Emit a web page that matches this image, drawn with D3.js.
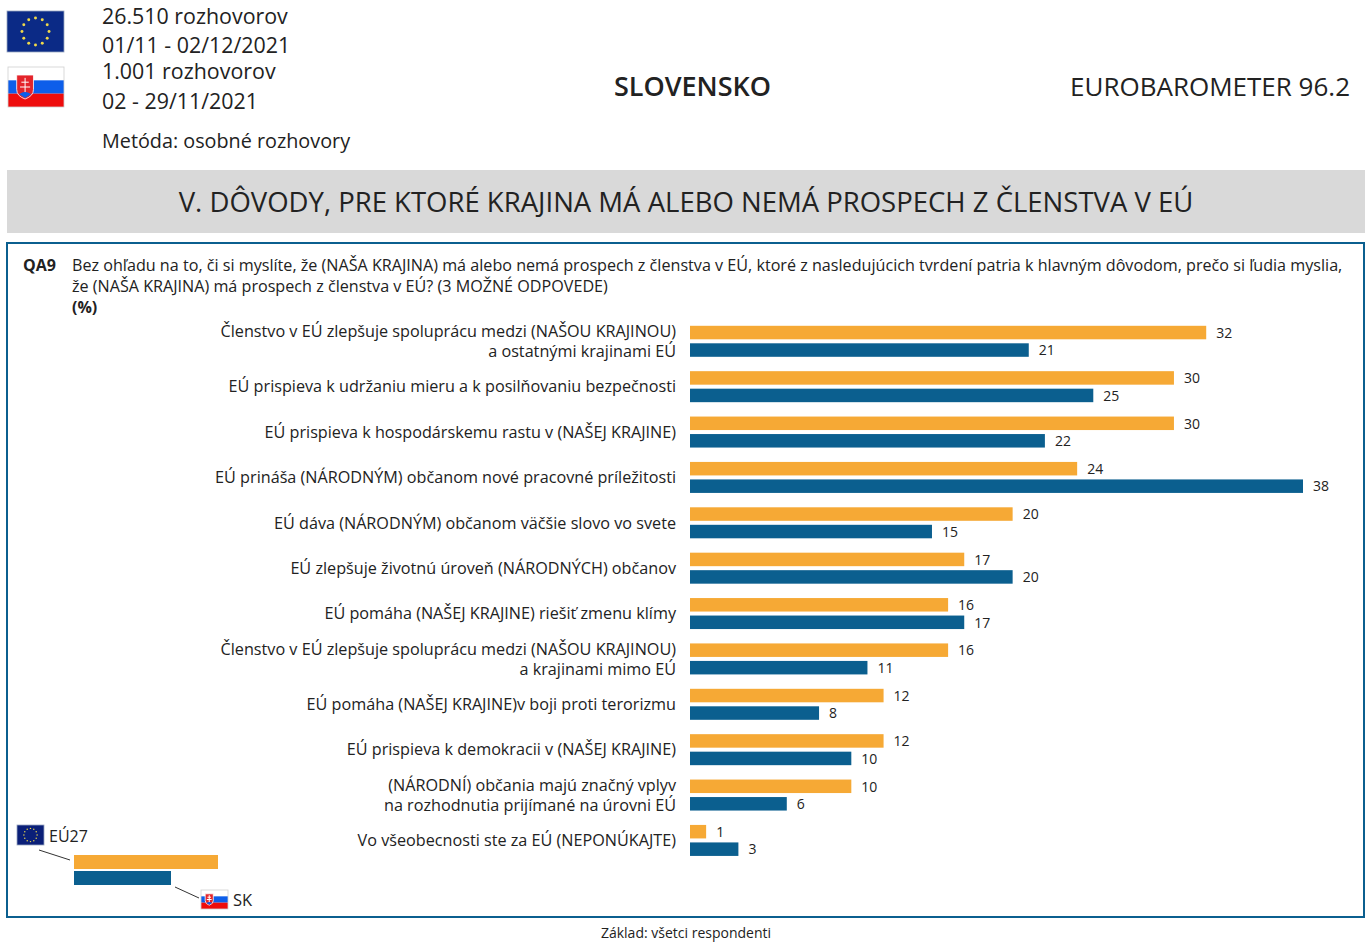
<!DOCTYPE html>
<html><head><meta charset="utf-8">
<script src="https://cdn.jsdelivr.net/npm/d3@7"></script>
<style>
html,body{margin:0;padding:0;background:#fff}
svg{display:block}
text{font-family:"Open Sans","Noto Sans",sans-serif;fill:#222}
</style></head><body><div id="c"></div>
<script>
const categories=[
["Členstvo v EÚ zlepšuje spoluprácu medzi (NAŠOU KRAJINOU)","a ostatnými krajinami EÚ"],
["EÚ prispieva k udržaniu mieru a k posilňovaniu bezpečnosti"],
["EÚ prispieva k hospodárskemu rastu v (NAŠEJ KRAJINE)"],
["EÚ prináša (NÁRODNÝM) občanom nové pracovné príležitosti"],
["EÚ dáva (NÁRODNÝM) občanom väčšie slovo vo svete"],
["EÚ zlepšuje životnú úroveň (NÁRODNÝCH) občanov"],
["EÚ pomáha (NAŠEJ KRAJINE) riešiť zmenu klímy"],
["Členstvo v EÚ zlepšuje spoluprácu medzi (NAŠOU KRAJINOU)","a krajinami mimo EÚ"],
["EÚ pomáha (NAŠEJ KRAJINE)v boji proti terorizmu"],
["EÚ prispieva k demokracii v (NAŠEJ KRAJINE)"],
["(NÁRODNÍ) občania majú značný vplyv","na rozhodnutia prijímané na úrovni EÚ"],
["Vo všeobecnosti ste za EÚ (NEPONÚKAJTE)"]];
const eu27=[32,30,30,24,20,17,16,16,12,12,10,1];
const sk=[21,25,22,38,15,20,17,11,8,10,6,3];
const headerLines=["26.510 rozhovorov","01/11 - 02/12/2021","1.001 rozhovorov","02 - 29/11/2021","Metóda: osobné rozhovory"];
const questionLines=["Bez ohľadu na to, či si myslíte, že (NAŠA KRAJINA) má alebo nemá prospech z členstva v EÚ, ktoré z nasledujúcich tvrdení patria k hlavným dôvodom, prečo si ľudia myslia,","že (NAŠA KRAJINA) má prospech z členstva v EÚ? (3 MOŽNÉ ODPOVEDE)"];

const ORANGE="#f6a935",BLUE="#0b5f8f";
const W=1372,H=945;
const svg=d3.select("#c").append("svg").attr("width",W).attr("height",H);
const x=d3.scaleLinear().domain([0,38]).range([690,1303]);
const y=d3.scaleBand().domain(d3.range(categories.length)).range([321.3,865.8]);
const T=(s,px,py,size,opt={})=>{const t=svg.append("text").attr("x",px).attr("y",py).attr("font-size",size).text(s);
 if(opt.anchor)t.attr("text-anchor",opt.anchor); if(opt.weight)t.attr("font-weight",opt.weight); return t;};

function euFlag(fx,fy,w,h,fill){
 svg.append("rect").attr("x",fx).attr("y",fy).attr("width",w).attr("height",h).attr("fill",fill).attr("stroke","#9aa7c0").attr("stroke-width",.8);
 const r=h*0.33;
 svg.selectAll(null).data(d3.range(12)).enter().append("circle")
  .attr("cx",i=>fx+w/2+r*Math.sin(i*Math.PI/6)).attr("cy",i=>fy+h/2-r*Math.cos(i*Math.PI/6))
  .attr("r",h*0.036).attr("fill","#f0d94a");
}
function skFlag(fx,fy,w,h){
 svg.append("rect").attr("x",fx).attr("y",fy).attr("width",w).attr("height",h/3).attr("fill","#fff");
 svg.append("rect").attr("x",fx).attr("y",fy+h/3).attr("width",w).attr("height",h/3).attr("fill","#0d5eea");
 svg.append("rect").attr("x",fx).attr("y",fy+2*h/3).attr("width",w).attr("height",h/3).attr("fill","#ee0c0c");
 svg.append("rect").attr("x",fx).attr("y",fy).attr("width",w).attr("height",h).attr("fill","none").attr("stroke","#cfcfcf").attr("stroke-width",.8);
 const sx=fx+w*0.155,sy=fy+h*0.2,sw=w*0.3,sh=h*0.6;
 svg.append("path").attr("d",`M${sx},${sy}H${sx+sw}V${sy+sh*.6}Q${sx+sw},${sy+sh*.88} ${sx+sw/2},${sy+sh}Q${sx},${sy+sh*.88} ${sx},${sy+sh*.6}Z`).attr("fill","#e4242a").attr("stroke","#fff").attr("stroke-width",.8);
 const c=sx+sw/2;
 svg.append("path").attr("d",`M${c},${sy+sh*.12}V${sy+sh*.72}M${c-sw*.22},${sy+sh*.3}H${c+sw*.22}M${c-sw*.3},${sy+sh*.5}H${c+sw*.3}`).attr("stroke","#fff").attr("stroke-width",1).attr("fill","none");
 svg.append("path").attr("d",`M${sx+sw*.15},${sy+sh*.8}Q${c},${sy+sh*.62} ${sx+sw*.85},${sy+sh*.8}L${c},${sy+sh*.96}Z`).attr("fill","#0d5eea");
}
// header
euFlag(7,11,57,41,"#0b2a86");
skFlag(8,67,56,40);
[[24,0,21.4],[53,1,21.4],[79,2,21.4],[109,3,21.4],[148,4,19.8]].forEach(([py,i,fs])=>T(headerLines[i],102,py,fs));
T("SLOVENSKO",692.5,96,27,{anchor:"middle",weight:600});
T("EUROBAROMETER 96.2",1350,96,26,{anchor:"end"});
svg.append("rect").attr("x",7).attr("y",170).attr("width",1358).attr("height",63).attr("fill","#d9d9d9");
T("V. DÔVODY, PRE KTORÉ KRAJINA MÁ ALEBO NEMÁ PROSPECH Z ČLENSTVA V EÚ",686,212,27.5,{anchor:"middle"});
// frame
svg.append("rect").attr("x",7).attr("y",243).attr("width",1357).attr("height",674).attr("fill","none").attr("stroke",BLUE).attr("stroke-width",2);
T("QA9",23,271,16,{weight:700});
questionLines.forEach((l,i)=>T(l,72,271+i*20.5,16.15));
T("(%)",72,313,16,{weight:700});
// rows
const barH=13.5;
const rows=svg.append("g").selectAll("g").data(categories).enter().append("g");
rows.each(function(lines,i){
 const g=d3.select(this), top=y(i)+4.5;
 g.append("rect").attr("x",x(0)).attr("y",top).attr("width",x(eu27[i])-x(0)).attr("height",barH).attr("fill",ORANGE);
 g.append("rect").attr("x",x(0)).attr("y",top+17.5).attr("width",x(sk[i])-x(0)).attr("height",barH).attr("fill",BLUE);
 g.append("text").attr("x",x(eu27[i])+10).attr("y",top+12).attr("font-size",14).text(eu27[i]);
 g.append("text").attr("x",x(sk[i])+10).attr("y",top+29.5).attr("font-size",14).text(sk[i]);
 const cy=top+15.5;
 const base=lines.length===1?[cy+5.7]:[cy-4.2,cy+15.8];
 lines.forEach((l,k)=>g.append("text").attr("x",676).attr("y",base[k]).attr("text-anchor","end").attr("font-size",16.2).text(l));
});
// legend
euFlag(17,825,27,20,"#0a1f78");
T("EÚ27",49,842,16);
svg.append("line").attr("x1",39).attr("y1",850).attr("x2",70).attr("y2",860).attr("stroke","#333");
svg.append("rect").attr("x",74).attr("y",855).attr("width",144).attr("height",14).attr("fill",ORANGE);
svg.append("rect").attr("x",74).attr("y",871).attr("width",97).attr("height",14).attr("fill",BLUE);
svg.append("line").attr("x1",175).attr("y1",887).attr("x2",199).attr("y2",898).attr("stroke","#333");
skFlag(201,890,27,19);
T("SK",233,906,16.5);
T("Základ: všetci respondenti",686,938,14,{anchor:"middle"});
</script></body></html>
